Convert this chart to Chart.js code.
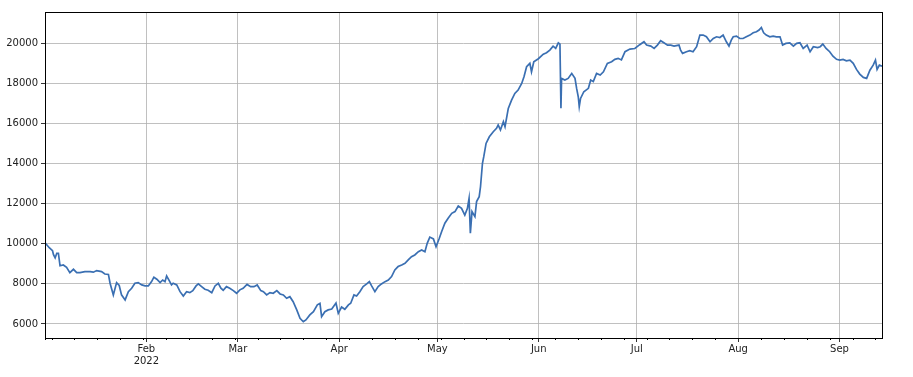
<!DOCTYPE html>
<html>
<head>
<meta charset="utf-8">
<script src="https://cdn.jsdelivr.net/npm/chart.js@4.4.1/dist/chart.umd.min.js"></script>
<style>
  body { margin: 0; background: #fff; }
  #wrap { width: 913px; height: 377px; }
</style>
</head>
<body>
<div id="wrap"><canvas id="series"></canvas></div>
<script>
// days counted from 2022-01-01
const dayIndex = [
  0.0, 1.3, 2.3, 2.6, 3.1, 3.6, 4.1, 4.6, 5.6, 6.6, 7.6, 8.7, 9.7, 10.7, 12.2, 13.8, 14.8, 15.8, 17.3, 18.3,
  19.4, 19.9, 20.9, 21.9, 22.7, 23.4, 24.5, 25.5, 26.5, 27.5, 28.5, 29.6, 30.6, 31.6, 32.6, 33.3, 34.2, 35.2, 36.0, 36.7,
  37.2, 38.0, 38.7, 39.2, 40.3, 41.3, 42.3, 43.3, 44.3, 45.2, 46.2, 46.9, 47.9, 48.9, 49.9, 51.0, 52.0, 53.0, 53.8, 54.5,
  55.5, 56.5, 57.6, 58.6, 59.6, 60.6, 61.8, 62.9, 63.9, 64.9, 66.0, 66.8, 67.8, 68.8, 69.8, 70.9, 71.9, 72.9, 73.9, 74.9,
  75.9, 77.0, 78.0, 79.0, 79.8, 81.0, 82.1, 83.3, 84.1, 84.6, 85.6, 86.6, 87.7, 89.0, 89.7, 90.7, 91.7, 92.8, 93.5, 94.5,
  95.3, 96.3, 97.3, 98.4, 99.2, 99.9, 100.9, 101.9, 102.9, 104.0, 105.0, 106.0, 107.0, 108.0, 109.1, 110.1, 111.1, 112.1, 113.1, 114.2,
  115.2, 116.2, 116.9, 117.7, 118.8, 119.6, 120.6, 121.3, 122.3, 123.3, 124.4, 125.4, 126.4, 127.4, 128.4, 129.2, 129.7, 130.1, 130.6, 131.5,
  132.0, 132.8, 133.2, 133.8, 134.2, 134.9, 135.9, 137.1, 138.1, 138.6, 139.3, 140.2, 140.7, 141.7, 142.7, 143.7, 144.7, 145.8, 146.5, 147.3,
  148.3, 148.8, 149.5, 150.9, 152.4, 153.4, 154.4, 155.4, 156.2, 157.0, 157.5, 157.8, 158.0, 159.0, 160.0, 161.1, 162.1, 162.6, 163.1, 163.4,
  163.8, 164.8, 166.2, 166.9, 167.7, 168.7, 169.8, 170.8, 172.0, 173.3, 174.3, 175.3, 176.3, 177.4, 178.9, 180.4, 181.9, 183.2, 184.0, 185.3,
  186.3, 187.3, 188.3, 189.3, 190.4, 191.4, 192.4, 193.9, 194.4, 195.0, 196.2, 197.2, 198.2, 199.3, 200.3, 201.3, 202.3, 203.4, 204.4, 205.4,
  206.4, 207.4, 208.4, 209.2, 209.9, 210.5, 211.5, 212.5, 213.5, 214.5, 215.6, 216.6, 217.6, 218.4, 219.1, 219.8, 220.6, 221.7, 222.7, 223.7,
  224.8, 225.6, 226.6, 227.8, 228.9, 229.9, 230.9, 231.9, 233.1, 234.0, 235.0, 236.3, 237.1, 237.9, 238.9, 240.0, 241.0, 242.1, 243.1, 244.1,
  245.1, 246.2, 247.2, 248.2, 249.2, 250.3, 251.3, 252.3, 253.3, 254.0, 254.5, 255.2, 256.0
];
const seriesValues = [
  10050, 9800, 9650, 9450, 9290, 9520, 9520, 8900, 8940, 8825, 8560, 8725, 8560, 8560, 8610, 8610, 8580, 8660, 8610, 8490,
  8470, 8030, 7445, 8060, 7920, 7450, 7200, 7610, 7780, 8030, 8060, 7945, 7900, 7895, 8110, 8330, 8230, 8060, 8190, 8110,
  8390, 8160, 7945, 8030, 7945, 7610, 7395, 7610, 7560, 7660, 7895, 7995, 7860, 7730, 7680, 7560, 7895, 8030, 7780, 7680,
  7860, 7780, 7660, 7530, 7700, 7780, 7970, 7860, 7860, 7945, 7660, 7610, 7445, 7560, 7530, 7660, 7495, 7445, 7280, 7360,
  7110, 6700, 6280, 6110, 6200, 6450, 6610, 6950, 7030, 6365, 6610, 6700, 6740, 7040, 6530, 6840, 6730, 6950, 7030, 7445,
  7395, 7610, 7860, 7995, 8110, 7895, 7610, 7860, 7995, 8110, 8190, 8360, 8690, 8860, 8940, 9020, 9190, 9350, 9440, 9600,
  9690, 9600, 10020, 10330, 10240, 9850, 10270, 10600, 11020, 11270, 11515, 11600, 11880, 11765, 11430, 11765, 12260, 10520, 11600, 11350,
  12100, 12345, 12840, 14010, 14340, 15000, 15330, 15580, 15750, 15920, 15670, 16080, 15830, 16745, 17160, 17490, 17660, 17990, 18320, 18820,
  18990, 18570, 19070, 19220, 19450, 19520, 19650, 19850, 19735, 20015, 19950, 16750, 18240, 18160, 18240, 18490, 18240, 17740, 17325, 16830,
  17240, 17575, 17745, 18160, 18080, 18490, 18410, 18570, 18990, 19070, 19190, 19240, 19160, 19570, 19700, 19730, 19920, 20070, 19900, 19850,
  19735, 19900, 20120, 20015, 19900, 19900, 19850, 19900, 19650, 19490, 19570, 19620, 19570, 19820, 20400, 20400, 20315, 20065, 20230, 20315,
  20280, 20400, 20065, 19850, 20150, 20315, 20350, 20230, 20230, 20315, 20400, 20515, 20565, 20650, 20780, 20515, 20400, 20315, 20350, 20315,
  20315, 19900, 19985, 20015, 19850, 19985, 20015, 19735, 19900, 19570, 19820, 19780, 19820, 19950, 19735, 19570, 19350, 19190, 19150, 19190,
  19120, 19150, 18990, 18690, 18455, 18290, 18240, 18650, 18900, 19150, 18690, 18900, 18850
];

const monthDays = [31, 59, 90, 120, 151, 181, 212, 243];
const monthLabels = [['Feb', '2022'], 'Mar', 'Apr', 'May', 'Jun', 'Jul', 'Aug', 'Sep'];
const weekDays = [0, 2, 9, 16, 23, 30, 37, 44, 51, 58, 65, 72, 79, 86, 93, 100, 107, 114, 121, 128, 135, 142, 149,
  156, 163, 170, 177, 184, 191, 198, 205, 219, 226, 233, 240, 247, 254];
const yTicks = [6000, 8000, 10000, 12000, 14000, 16000, 18000, 20000];

const font = { family: "'DejaVu Sans', sans-serif", size: 10 };

//frame round the plot plus the small weekly tick marks
const framePlugin = {
  id: 'frame',
  afterDatasetsDraw: (chart) => {
    const {ctx, chartArea} = chart;
    const xs = chart.scales.x;
    ctx.save();
    ctx.strokeStyle = '#000';
    ctx.lineWidth = 1;
    ctx.beginPath();
    weekDays.forEach((d) => {
      const px = Math.round(xs.getPixelForValue(d)) + 0.5;
      ctx.moveTo(px, chartArea.bottom);
      ctx.lineTo(px, chartArea.bottom + 2);
    });
    ctx.stroke();
    ctx.strokeRect(chartArea.left + 0.5, chartArea.top + 0.5, chartArea.right - chartArea.left, chartArea.bottom - chartArea.top);
    ctx.restore();
  }
};

Chart.defaults.color = '#222';

new Chart(document.getElementById('series'), {
  type: 'line',
  data: {
    labels: dayIndex,
    datasets: [{
      data: dayIndex.map((d, i) => ({x: d, y: seriesValues[i]})),
      borderColor: '#3a6fb2',
      borderWidth: 1.7,
      pointRadius: 0,
      tension: 0,
      fill: false,
    }]
  },
  options: {
    responsive: true,
    maintainAspectRatio: false,
    animation: false,
    layout: { padding: { left: 0, right: 31, top: 12, bottom: 0 } },
    plugins: { legend: { display: false }, tooltip: { enabled: false } },
    scales: {
      x: {
        type: 'linear',
        min: 0,
        max: 256,
        afterBuildTicks: (scale) => { scale.ticks = monthDays.map(v => ({value: v})); },
        afterFit: (scale) => { scale.height = 39; },
        grid: { color: '#b0b0b0', lineWidth: 0.8, tickLength: 4, tickColor: '#000' },
        border: { display: false },
        ticks: {
          font: font,
          padding: 1,
          maxRotation: 0,
          autoSkip: false,
          callback: (value, index) => monthLabels[index],
        }
      },
      y: {
        min: 5300,
        max: 21550,
        afterBuildTicks: (scale) => { scale.ticks = yTicks.map(v => ({value: v})); },
        afterFit: (scale) => { scale.width = 45; },
        grid: { color: '#b0b0b0', lineWidth: 0.8, tickLength: 4, tickColor: '#000' },
        border: { display: false },
        ticks: {
          font: font,
          padding: 3,
          callback: (value) => String(value),
        }
      }
    }
  },
  plugins: [framePlugin],
});
</script>
</body>
</html>
